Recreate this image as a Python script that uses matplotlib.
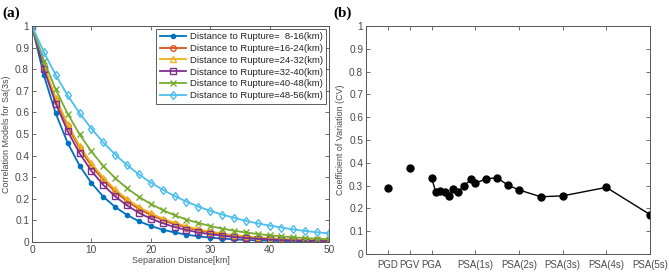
import matplotlib
matplotlib.use("Agg")
import matplotlib.pyplot as plt
import numpy as np

# ---- panel (a): correlation models vs separation distance ----
sep_km = list(range(0, 51, 2))

rho_8_16 = [1, 0.771, 0.595, 0.459, 0.354, 0.273, 0.210, 0.162, 0.125, 0.096,
            0.074, 0.057, 0.044, 0.034, 0.026, 0.020, 0.016, 0.012, 0.009, 0.007,
            0.0055, 0.0042, 0.0033, 0.0025, 0.0019, 0.0015]
rho_16_24 = [1, 0.812, 0.659, 0.535, 0.435, 0.353, 0.287, 0.233, 0.189, 0.153,
             0.125, 0.101, 0.082, 0.067, 0.054, 0.044, 0.036, 0.029, 0.024, 0.019,
             0.016, 0.013, 0.010, 0.0085, 0.0069, 0.0056]
rho_24_32 = [1, 0.817, 0.668, 0.546, 0.446, 0.364, 0.298, 0.243, 0.199, 0.162,
             0.133, 0.108, 0.089, 0.072, 0.059, 0.048, 0.040, 0.032, 0.026, 0.022,
             0.018, 0.014, 0.012, 0.0096, 0.0078, 0.0064]
rho_32_40 = [1, 0.801, 0.641, 0.513, 0.411, 0.329, 0.264, 0.211, 0.169, 0.135,
             0.108, 0.087, 0.069, 0.056, 0.044, 0.036, 0.029, 0.023, 0.018, 0.015,
             0.012, 0.0094, 0.0075, 0.006, 0.0048, 0.0039]
rho_40_48 = [1, 0.840, 0.706, 0.594, 0.499, 0.419, 0.352, 0.296, 0.249, 0.209,
             0.176, 0.148, 0.124, 0.104, 0.088, 0.074, 0.062, 0.052, 0.044, 0.037,
             0.031, 0.026, 0.022, 0.018, 0.015, 0.013]
rho_48_56 = [1, 0.879, 0.773, 0.679, 0.597, 0.525, 0.461, 0.405, 0.356, 0.313,
             0.275, 0.242, 0.213, 0.187, 0.164, 0.144, 0.127, 0.112, 0.098, 0.086,
             0.076, 0.067, 0.058, 0.051, 0.045, 0.040]

series_labels = ["Distance to Rupture=  8-16(km)", "Distance to Rupture=16-24(km)",
                 "Distance to Rupture=24-32(km)", "Distance to Rupture=32-40(km)",
                 "Distance to Rupture=40-48(km)", "Distance to Rupture=48-56(km)"]

# ---- panel (b): coefficient of variation per intensity measure ----
im_tick_pos = [1, 2, 3, 5, 7, 9, 11, 13]
im_tick_labels = ["PGD", "PGV", "PGA", "PSA(1s)", "PSA(2s)", "PSA(3s)", "PSA(4s)", "PSA(5s)"]
pgd_pgv_x = [1, 2]
pgd_pgv_cv = [0.288, 0.379]
psa_x = [3.0, 3.2, 3.4, 3.6, 3.8, 4.0, 4.2, 4.5, 4.8, 5.0, 5.5, 6.0, 6.5, 7.0,
         8.0, 9.0, 11.0, 13.0]
psa_cv = [0.334, 0.270, 0.275, 0.271, 0.255, 0.286, 0.273, 0.300, 0.327, 0.310,
          0.330, 0.334, 0.302, 0.281, 0.251, 0.255, 0.292, 0.173]

colors = ["#0072BD", "#D95319", "#EDB120", "#7E2F8E", "#77AC30", "#4DBEEE"]
markers = [".", "o", "^", "s", "x", "d"]
msizes = [6, 4, 4, 4, 4, 4.5]
TXT = "#4a4a4a"

plt.rcParams["font.family"] = ["Liberation Sans", "DejaVu Sans"]

fig = plt.figure(figsize=(6.69, 2.73), dpi=100)
ax1 = fig.add_axes([0.0478, 0.1136, 0.444, 0.7912])
ax2 = fig.add_axes([0.5471, 0.0696, 0.4245, 0.8352])


def matlab_box(ax):
    for s in ax.spines.values():
        s.set_color("#555555")
        s.set_linewidth(0.7)
    ax.tick_params(direction="in", length=3, width=0.6, color="#555555",
                   top=True, right=True, labelsize=7.3, labelcolor=TXT, pad=2)


all_rho = [rho_8_16, rho_16_24, rho_24_32, rho_32_40, rho_40_48, rho_48_56]
for rho, c, m, ms, lab in zip(all_rho, colors, markers, msizes, series_labels):
    ax1.plot(sep_km, rho, color=c, marker=m, ms=ms, lw=1.3, mfc="none" if m not in (".", "x") else c,
             mew=1.0, label=lab)
ax1.set_xlim(0, 50)
ax1.set_ylim(0, 1)
ax1.set_xticks(range(0, 51, 10))
ax1.set_yticks(np.arange(0, 1.01, 0.1))
ax1.set_yticklabels(["0", "0.1", "0.2", "0.3", "0.4", "0.5", "0.6", "0.7", "0.8", "0.9", "1"])
matlab_box(ax1)
ax1.set_xlabel("Separation Distance[km]", fontsize=6.4, color=TXT, labelpad=1)
ax1.set_ylabel("Correlation Models for Sa(3s)", fontsize=6.4, color=TXT, labelpad=3)
leg = ax1.legend(loc="upper right", fontsize=6.8, frameon=True, fancybox=False,
                 edgecolor="#333333", borderpad=0.35, labelspacing=0.3,
                 handlelength=2.8, handletextpad=0.4, borderaxespad=0.3)
leg.get_frame().set_linewidth(0.7)
for t in leg.get_texts():
    t.set_color("#222222")

ax2.plot(pgd_pgv_x, pgd_pgv_cv, "o", color="black", ms=5)
ax2.plot(psa_x, psa_cv, "-o", color="black", ms=5, lw=1.0)
ax2.set_xlim(0, 13)
ax2.set_ylim(0, 1)
ax2.set_xticks(im_tick_pos)
ax2.set_xticklabels(im_tick_labels)
ax2.set_yticks(np.arange(0, 1.01, 0.1))
ax2.set_yticklabels(["0", "0.1", "0.2", "0.3", "0.4", "0.5", "0.6", "0.7", "0.8", "0.9", "1"])
matlab_box(ax2)
ax2.tick_params(axis="x", pad=4, labelsize=6.9)
ax2.set_ylabel("Coefficient of Variation (CV)", fontsize=6.4, color=TXT, labelpad=3)

fig.text(0.003, 0.975, "(a)", fontsize=11, fontweight="bold", family="Liberation Serif",
         va="top", ha="left")
fig.text(0.499, 0.975, "(b)", fontsize=11, fontweight="bold", family="Liberation Serif",
         va="top", ha="left")

fig.savefig("out.png", dpi=100)
